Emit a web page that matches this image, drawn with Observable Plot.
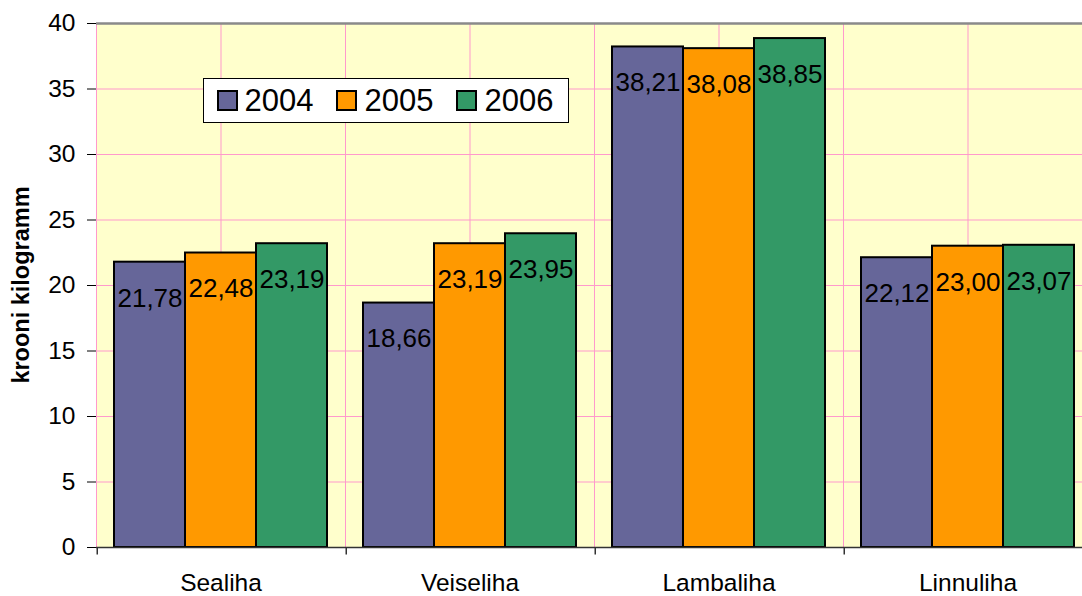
<!DOCTYPE html>
<html><head><meta charset="utf-8">
<script src="https://cdn.jsdelivr.net/npm/d3@7"></script>
<script src="https://cdn.jsdelivr.net/npm/@observablehq/plot@0.6"></script>
<style>
body{margin:0;background:#fff;overflow:hidden;font-family:"Liberation Sans",Arial,sans-serif;}
#wrap{position:relative;width:1082px;height:596px;overflow:hidden;}
#wrap svg [aria-label*="axis"] text{font-size:24.5px;}
.legend{position:absolute;left:203px;top:78px;width:366px;height:45px;box-sizing:border-box;border:1.5px solid #000;background:#fff;display:flex;align-items:center;font-size:31px;padding-left:12.5px;color:#000;}
.legend .item{display:flex;align-items:center;margin-right:23px;}
.legend .sw{width:21px;height:21px;box-sizing:border-box;border:2px solid #000;margin-right:7px;}
.ylabel{position:absolute;left:21px;top:285px;transform:translate(-50%,-50%) rotate(-90deg);white-space:nowrap;font-weight:bold;font-size:23.5px;color:#000;}
</style></head><body><div id="wrap"></div>
<script>
const categories = ["Sealiha", "Veiseliha", "Lambaliha", "Linnuliha"];
const years = ["2004", "2005", "2006"];
const values2004 = [21.78, 18.66, 38.21, 22.12];
const values2005 = [22.48, 23.19, 38.08, 23.00];
const values2006 = [23.19, 23.95, 38.85, 23.07];
const colors = ["#666699", "#FF9900", "#339966"];
const yTicks = [0, 5, 10, 15, 20, 25, 30, 35, 40];
const yLabel = "krooni kilogramm";

const series = [values2004, values2005, values2006];
const table = categories.flatMap((c, i) => years.map((y, j) => ({category: c, year: y, value: series[j][i]})));
const fmt = v => v.toFixed(2).replace(".", ",");

const W = 1092, H = 596, mL = 96, mT = 23, mB = 49;
const innerH = H - mT - mB;
const facetW = (W - mL) / categories.length;

const plot = Plot.plot({
  width: W, height: H, marginLeft: mL, marginRight: 0, marginTop: mT, marginBottom: mB,
  style: {fontFamily: "Liberation Sans, Arial, sans-serif", fontSize: "24.5px", background: "transparent", color: "#000", overflow: "visible"},
  facet: {data: table, x: "category"},
  fx: {domain: categories, padding: 0, axis: "bottom", label: null, tickSize: 0, tickPadding: 26},
  x: {domain: years, paddingInner: 0, paddingOuter: 0.25, axis: null},
  y: {domain: [0, 40], ticks: yTicks, tickSize: 9, tickPadding: 12, label: null, line: true},
  color: {domain: years, range: colors},
  marks: [
    Plot.frame({fill: "#FFFFCC", stroke: "#FF99CC", strokeWidth: 1}),
    Plot.ruleY(yTicks.filter(t => t > 0 && t < 40), {stroke: "#FF99CC", strokeWidth: 1}),
    Plot.ruleX(["2005"], {stroke: "#FF99CC", strokeWidth: 1}),
    Plot.ruleY([40], {stroke: "#8a8a8a", strokeWidth: 2.5}),
    Plot.barY(table, {x: "year", y: "value", fill: "year", stroke: "#000", strokeWidth: 2}),
    Plot.text(table, {x: "year", y: "value", text: d => fmt(d.value), dy: 36, fontSize: 26, fill: "#000"}),
    Plot.ruleY([0], {stroke: "#333", strokeWidth: 1.5}),
    Plot.frame({fill: "#333", stroke: null, insetTop: innerH, insetBottom: -7, insetRight: facetW - 1.5})
  ]
});
plot.setAttribute("width", 1082);
plot.setAttribute("viewBox", "0 0 1082 596");
const wrap = document.getElementById("wrap");
wrap.appendChild(plot);

const legend = document.createElement("div");
legend.className = "legend";
years.forEach((y, i) => {
  const item = document.createElement("div");
  item.className = "item";
  const sw = document.createElement("div");
  sw.className = "sw";
  sw.style.background = colors[i];
  const t = document.createElement("span");
  t.textContent = y;
  item.appendChild(sw); item.appendChild(t);
  legend.appendChild(item);
});
wrap.appendChild(legend);

const yl = document.createElement("div");
yl.className = "ylabel";
yl.textContent = yLabel;
wrap.appendChild(yl);
</script>
</body></html>
